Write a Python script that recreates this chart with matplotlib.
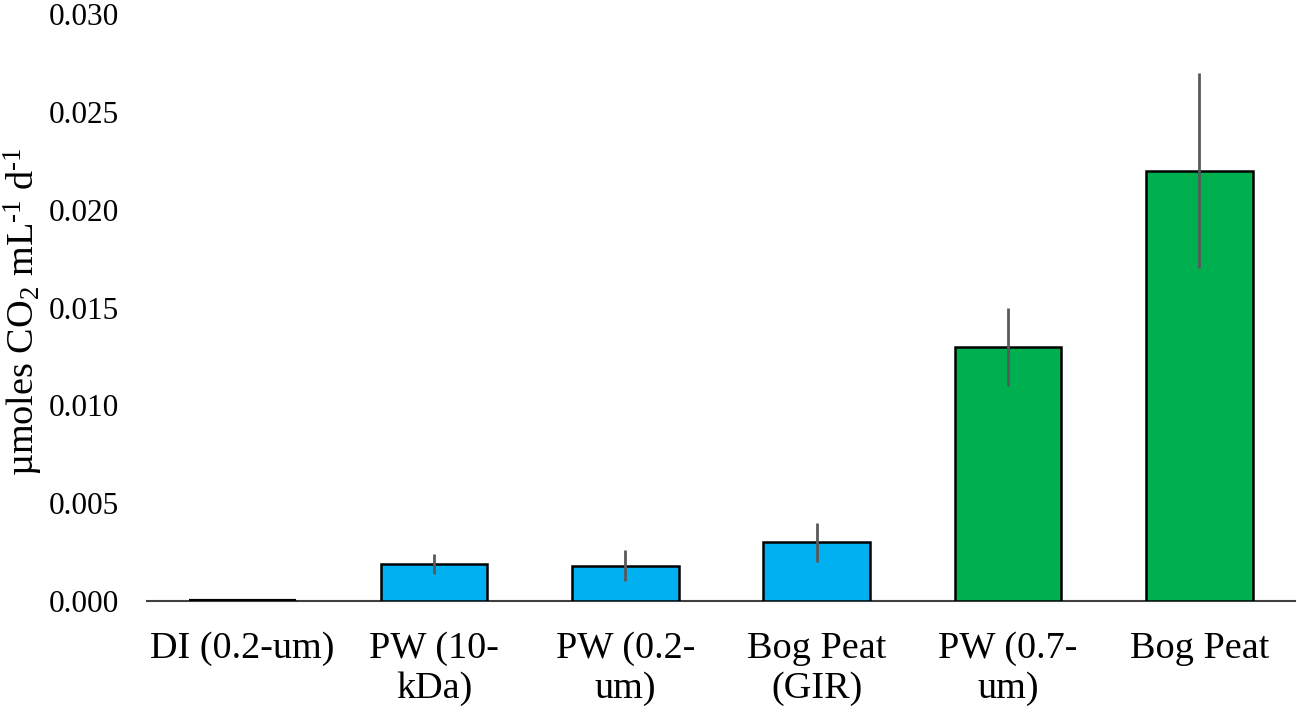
import matplotlib
matplotlib.use('Agg')
import matplotlib.pyplot as plt

# Data
categories = ['DI (0.2-um)', 'PW (10-\nkDa)', 'PW (0.2-\num)', 'Bog Peat\n(GIR)', 'PW (0.7-\num)', 'Bog Peat']
rates = [0.0, 0.0019, 0.0018, 0.0030, 0.0130, 0.0220]
errors = [0.0, 0.0005, 0.0008, 0.0010, 0.0020, 0.0050]
bar_colors = ['#00B0F0', '#00B0F0', '#00B0F0', '#00B0F0', '#00B050', '#00B050']
yticks = [0.000, 0.005, 0.010, 0.015, 0.020, 0.025, 0.030]

plt.rcParams['font.family'] = ['Liberation Serif', 'DejaVu Serif']
plt.rcParams['mathtext.fontset'] = 'custom'
plt.rcParams['mathtext.rm'] = 'Liberation Serif'
plt.rcParams['mathtext.it'] = 'Liberation Serif:italic'

fig = plt.figure(figsize=(12.97, 7.12), dpi=100)
ax = fig.add_axes([0.1133, 0.1559, 0.8852, 0.8244])

x = range(len(categories))
ax.bar(x, rates, width=0.556, color=bar_colors, edgecolor='black', linewidth=1.8, zorder=2)
ax.errorbar(x[1:], rates[1:], yerr=errors[1:], fmt='none', ecolor='#595959',
            elinewidth=2, capsize=0, zorder=3)
# DI bar is essentially zero: draw its outline as a flat line
ax.hlines(0, -0.278, 0.278, color='black', linewidth=3, zorder=3)

ax.set_xlim(-0.5, len(categories) - 0.5)
ax.set_ylim(0, 0.030)
ax.set_yticks(yticks)
ax.set_yticklabels(['%.3f' % t for t in yticks])
ax.set_xticks(list(x))
ax.set_xticklabels(categories, linespacing=1.2)

for side in ['top', 'right', 'left']:
    ax.spines[side].set_visible(False)
ax.spines['bottom'].set_color('#404040')
ax.spines['bottom'].set_linewidth(1.5)
ax.spines['bottom'].set_zorder(1)

ax.tick_params(axis='y', length=0, pad=20, labelsize=22.5)
ax.tick_params(axis='x', length=0, pad=22, labelsize=27.5)

fig.text(23 / 1297, 1 - 312 / 712, 'µmoles CO$_2$ mL$^{\u20101}$ d$^{\u20101}$',
         rotation=90, ha='center', va='center', fontsize=27.5)

plt.savefig('out.png', dpi=100)
